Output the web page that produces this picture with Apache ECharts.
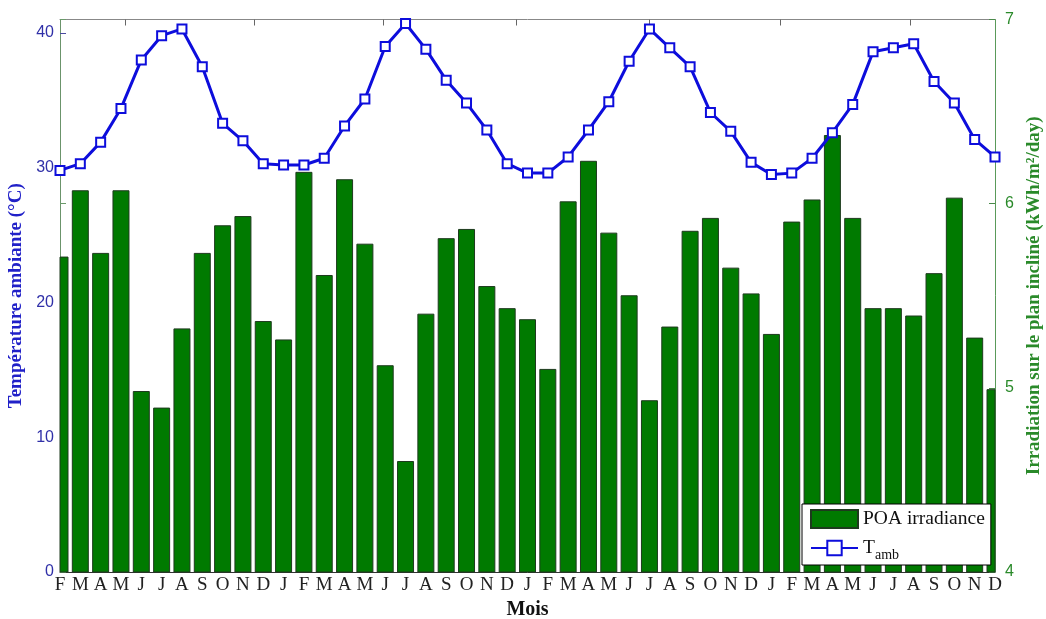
<!DOCTYPE html>
<html><head><meta charset="utf-8">
<script src="https://cdn.jsdelivr.net/npm/echarts@6/dist/echarts.min.js"></script>
<style>html,body{margin:0;padding:0;background:#fff}#c{width:1046px;height:619px}</style>
</head><body><div id="c"></div>
<script>
const months = ['F','M','A','M','J','J','A','S','O','N','D',
  'J','F','M','A','M','J','J','A','S','O','N','D',
  'J','F','M','A','M','J','J','A','S','O','N','D',
  'J','F','M','A','M','J','J','A','S','O','N','D'];
const poaIrradiance = [5.71, 6.07, 5.73, 6.07, 4.98, 4.89, 5.32, 5.73, 5.88, 5.93, 5.36,
  5.26, 6.17, 5.61, 6.13, 5.78, 5.12, 4.60, 5.40, 5.81, 5.86, 5.55, 5.43,
  5.37, 5.10, 6.01, 6.23, 5.84, 5.50, 4.93, 5.33, 5.85, 5.92, 5.65, 5.51,
  5.29, 5.90, 6.02, 6.37, 5.92, 5.43, 5.43, 5.39, 5.62, 6.03, 5.27, 4.99];
const tAmb = [29.8, 30.3, 31.9, 34.4, 38.0, 39.8, 40.3, 37.5, 33.3, 32.0, 30.3,
  30.2, 30.2, 30.7, 33.1, 35.1, 39.0, 40.7, 38.8, 36.5, 34.8, 32.8, 30.3,
  29.6, 29.6, 30.8, 32.8, 34.9, 37.9, 40.3, 38.9, 37.5, 34.1, 32.7, 30.4,
  29.5, 29.6, 30.7, 32.6, 34.7, 38.6, 38.9, 39.2, 36.4, 34.8, 32.1, 30.8];
// unlabeled top-axis tick marks (in month-index units)
const topTicks = [3.2, 9.55, 15.9, 22.45, 29.0, 35.45, 41.85];

const serif = '"Liberation Serif", "DejaVu Serif", serif';
const sans = '"Liberation Sans", Arial, sans-serif';
const chart = echarts.init(document.getElementById('c'), null, {renderer: 'canvas'});

function renderBar(params, api) {
  const idx = api.value(0), v = api.value(1);
  const top = api.coord([idx, v]);
  const base = api.coord([idx, 4]);
  const w = 16;
  const cs = params.coordSys;
  const shape = echarts.graphic.clipRectByRect(
    {x: top[0] - w / 2, y: top[1], width: w, height: base[1] - top[1]},
    {x: cs.x, y: cs.y, width: cs.width, height: cs.height});
  if (!shape) return null;
  return {type: 'rect', shape: shape,
    style: {fill: '#007a00', stroke: '#1e3a1e', lineWidth: 1}};
}

chart.setOption({
  animation: false,
  backgroundColor: '#fff',
  grid: {left: 60, right: 51, top: 19.5, bottom: 47, containLabel: false, outerBoundsMode: 'none'},
  legend: {
    orient: 'vertical',
    left: 802, top: 504,
    padding: [5, 6, 3, 8],
    itemWidth: 47, itemHeight: 18, itemGap: 9,
    backgroundColor: '#fff', borderColor: '#000', borderWidth: 1, borderRadius: 0,
    textStyle: {fontFamily: serif, fontSize: 19.5, color: '#111',
      rich: {a: {fontFamily: serif, fontSize: 19.5, color: '#111'},
             b: {fontFamily: serif, fontSize: 14, color: '#111', padding: [14, 0, 0, 0]}}},
    formatter: n => n === 'T_amb' ? '{a|T}{b|amb}' : n,
    data: [{name: 'POA irradiance', icon: 'rect'}, {name: 'T_amb'}]
  },
  xAxis: [{
    type: 'category', data: months, boundaryGap: false,
    axisLine: {onZero: false, lineStyle: {color: '#333', width: 1}},
    axisTick: {show: false},
    axisLabel: {interval: 0, fontFamily: serif, fontSize: 19, color: '#222', margin: 4},
    name: 'Mois', nameLocation: 'middle', nameGap: 25,
    nameTextStyle: {fontFamily: serif, fontSize: 20, fontWeight: 'bold', color: '#111'}
  }, {
    type: 'value', position: 'top', min: 0, max: 46,
    axisLine: {show: true, onZero: false, lineStyle: {color: '#888', width: 1}},
    axisTick: {show: true, inside: true, length: 6, customValues: topTicks, lineStyle: {color: '#666'}},
    axisLabel: {show: false}, splitLine: {show: false}
  }],
  yAxis: [{
    type: 'value', position: 'left', min: 0, max: 41, interval: 10,
    axisLine: {show: true, onZero: false, lineStyle: {color: '#6b946b', width: 1}},
    axisTick: {show: true, inside: true, length: 6, lineStyle: {color: '#4a4aa0'}},
    axisLabel: {fontFamily: sans, fontSize: 16, color: '#3030a8', margin: 6, showMaxLabel: false},
    splitLine: {show: false},
    name: 'Température ambiante (°C)', nameLocation: 'middle', nameGap: 32,
    nameTextStyle: {fontFamily: serif, fontSize: 19, fontWeight: 'bold', color: '#2020c8'}
  }, {
    type: 'value', position: 'right', min: 4, max: 7, interval: 1,
    axisLine: {show: true, onZero: false, lineStyle: {color: '#5a9a5a', width: 1}},
    axisTick: {show: true, inside: true, length: 6, lineStyle: {color: '#4a8a4a'}},
    axisLabel: {fontFamily: sans, fontSize: 16, color: '#2a8a2a', margin: 10},
    splitLine: {show: false},
    name: 'Irradiation sur le plan incliné (kWh/m²/day)', nameLocation: 'middle', nameGap: 29,
    nameTextStyle: {fontFamily: serif, fontSize: 19, fontWeight: 'bold', color: '#2a8a2a'}
  }, {
    type: 'value', position: 'left', min: 4, max: 7, interval: 1,
    axisLine: {show: false, onZero: false},
    axisTick: {show: true, inside: true, length: 6, lineStyle: {color: '#6a9a6a'}},
    axisLabel: {show: false}, splitLine: {show: false}
  }],
  series: [{
    name: 'POA irradiance', type: 'custom', xAxisIndex: 0, yAxisIndex: 1,
    data: poaIrradiance.map((v, i) => [i, v]),
    encode: {x: 0, y: 1},
    renderItem: renderBar,
    itemStyle: {color: '#007a00', borderColor: '#1e3a1e', borderWidth: 1}
  }, {
    name: 'T_amb', type: 'line', xAxisIndex: 0, yAxisIndex: 0, z: 5,
    data: tAmb, symbol: 'emptyRect', symbolSize: 9,
    lineStyle: {color: '#0d0ddc', width: 3},
    itemStyle: {color: '#0d0ddc', borderColor: '#0d0ddc', borderWidth: 2.5}
  }]
});
</script></body></html>
